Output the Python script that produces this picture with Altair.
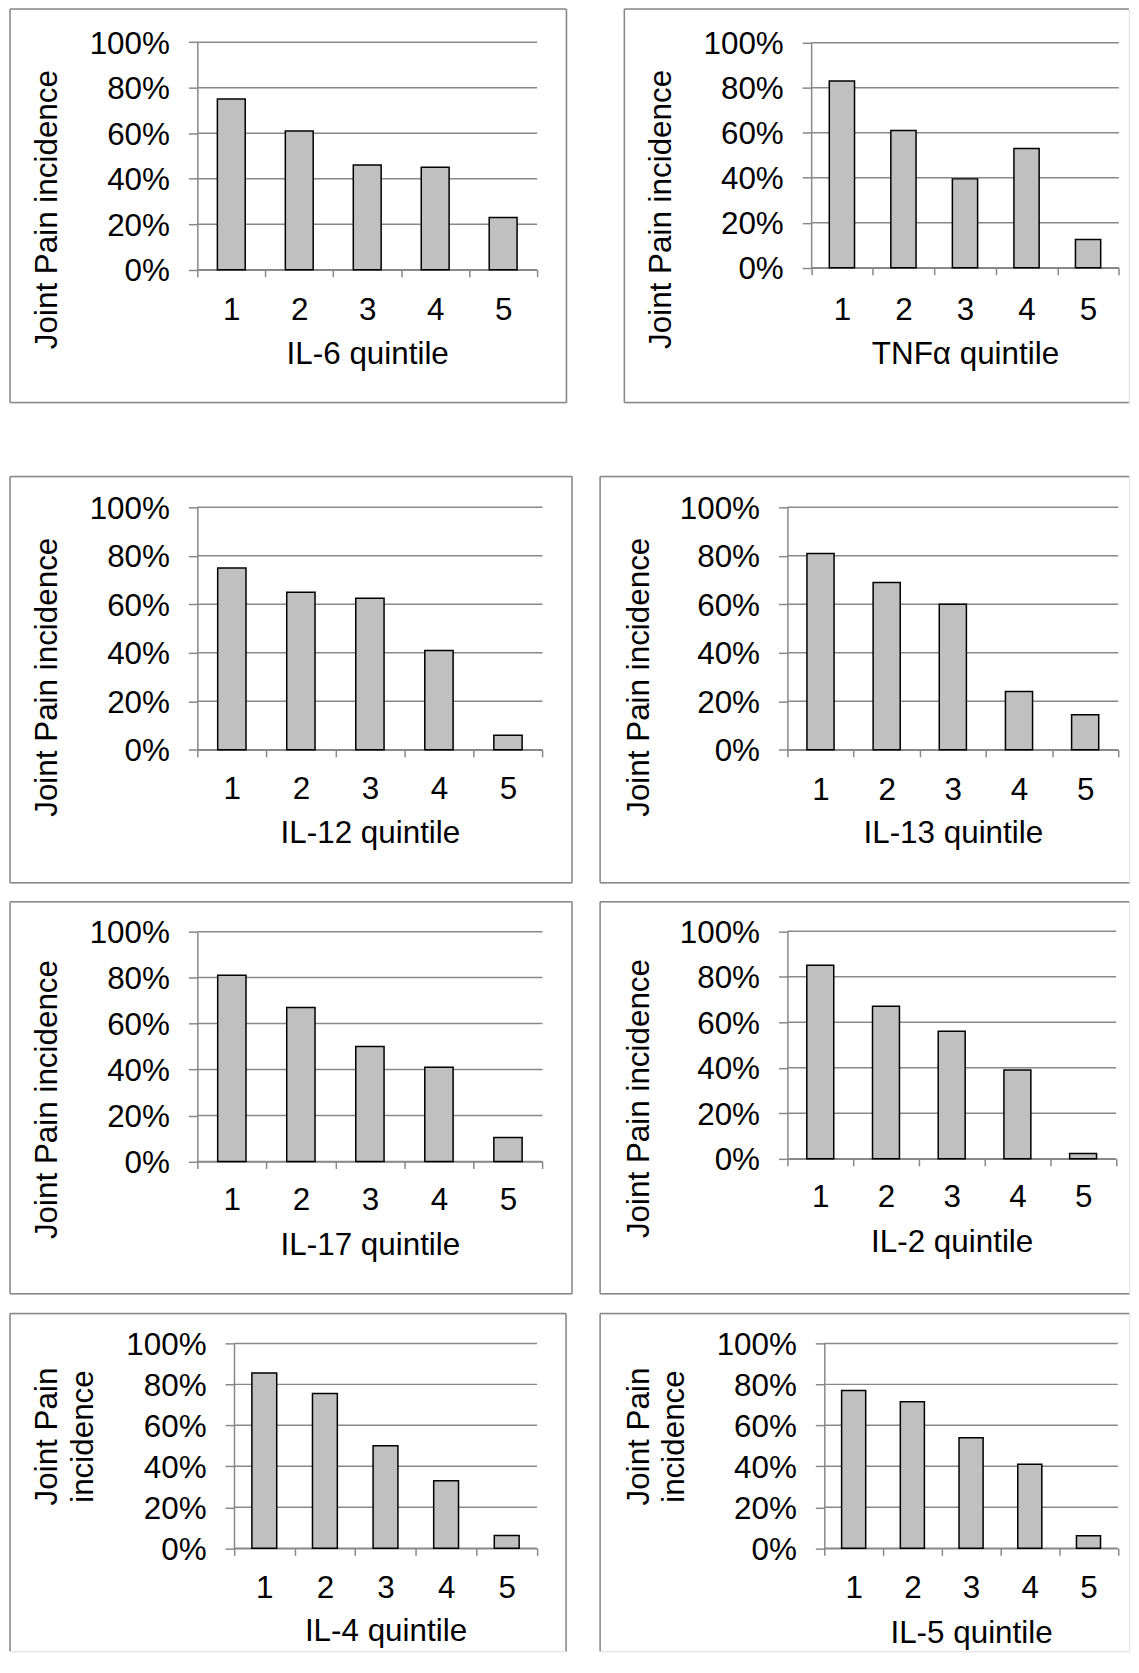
import altair as alt
import pandas as pd

# ---------------- data ----------------
QUINTILES = ["1", "2", "3", "4", "5"]
MARKERS = ["IL-6", "TNFα", "IL-12", "IL-13", "IL-17", "IL-2", "IL-4", "IL-5"]
IL6 = [0.75, 0.61, 0.46, 0.45, 0.23]
TNFA = [0.83, 0.61, 0.395, 0.53, 0.125]
IL12 = [0.75, 0.65, 0.625, 0.41, 0.06]
IL13 = [0.81, 0.69, 0.60, 0.24, 0.145]
IL17 = [0.81, 0.67, 0.50, 0.41, 0.105]
IL2 = [0.85, 0.67, 0.56, 0.39, 0.023]
IL4 = [0.855, 0.755, 0.50, 0.33, 0.063]
IL5 = [0.77, 0.715, 0.54, 0.41, 0.062]
SERIES = [IL6, TNFA, IL12, IL13, IL17, IL2, IL4, IL5]
Y_TICKS = [0, 0.2, 0.4, 0.6, 0.8, 1.0]
Y_TITLE = "Joint Pain incidence"
Y_TITLE_2L = ["Joint Pain", "incidence"]

# ---------------- style ----------------
GRAY = "#888888"
BAR_FILL = "#c0c0c0"
FONT = "Liberation Sans"
FS = 31.5
LW = 1.5
RIGHT = 1129  # right end of the (open) right-hand frames, page px

# per-panel layout in page pixels:
# frame box, plot box (x, y, w, h), frame edges drawn, text centres
# (ycx = centre of the first line of the y title)
LAYOUT = [
    dict(frame=(8.3, 8.3, 566.7, 403.3), plot=(196.3, 41.7, 341, 228.3), edges="ltrb",
         xl=308.3, xt=353.3, ycx=43.9, ycy=209.2, two=False),
    dict(frame=(622.7, 8.3, RIGHT, 403.3), plot=(810.2, 42.3, 308.8, 225.7), edges="ltb",
         xl=308.3, xt=353.0, ycx=658.0, ycy=209.0, two=False),
    dict(frame=(8.3, 475, 572.3, 882.7), plot=(196.3, 506, 346.4, 243.3), edges="ltrb",
         xl=786.7, xt=831.0, ycx=43.9, ycy=676.0, two=False),
    dict(frame=(598, 475, RIGHT, 882.7), plot=(786, 506, 332, 243.3), edges="ltb",
         xl=788.3, xt=831.0, ycx=634.8, ycy=676.0, two=False),
    dict(frame=(8.3, 900, 572.3, 1293.3), plot=(196.3, 930, 346.4, 230.7), edges="ltrb",
         xl=1197.7, xt=1243.0, ycx=43.9, ycy=1098.0, two=False),
    dict(frame=(598, 900, RIGHT, 1293.3), plot=(786, 929.5, 329.7, 228.5), edges="ltb",
         xl=1194.5, xt=1239.5, ycx=634.8, ycy=1097.0, two=False),
    dict(frame=(8.3, 1311, 566.3, 1650), plot=(233.1, 1341, 304.1, 205.7), edges="ltr",
         xl=1585.0, xt=1628.3, ycx=43.9, ycy=1434.0, two=True),
    dict(frame=(598, 1311, RIGHT, 1650), plot=(823, 1341, 294.6, 205.7), edges="lt",
         xl=1585.0, xt=1630.0, ycx=634.8, ycy=1434.0, two=True),
]

X_TICK = 7
Y_TICK = 9
MID = 2.3  # distance of cap centre above a 'middle' baseline anchor


def frame_layers(W, H, edges):
    base = alt.Chart(pd.DataFrame({"k": [0]}))
    rule = dict(color=GRAY, strokeWidth=LW)
    out = []
    if "l" in edges:
        out.append(base.mark_rule(**rule).encode(x=alt.value(0), y=alt.value(0), y2=alt.value(H)))
    if "r" in edges:
        out.append(base.mark_rule(**rule).encode(x=alt.value(W), y=alt.value(0), y2=alt.value(H)))
    if "t" in edges:
        out.append(base.mark_rule(**rule).encode(y=alt.value(0), x=alt.value(0), x2=alt.value(W)))
    if "b" in edges:
        out.append(base.mark_rule(**rule).encode(y=alt.value(H), x=alt.value(0), x2=alt.value(W)))
    return out


def panel(name, values, g):
    fx0, fy0, fx1, fy1 = g["frame"]
    px0, py0, w, h = g["plot"]
    W, H = fx1 - fx0, fy1 - fy0
    ax, ay = px0 - fx0, py0 - fy0
    bottom = py0 + h

    xscale = alt.Scale(paddingInner=0, paddingOuter=0, range=[ax, ax + w])
    yscale = alt.Scale(domain=[0, 1], nice=False, range=[ay + h, ay])
    yaxis = alt.Axis(
        title=Y_TITLE_2L if g["two"] else Y_TITLE,
        values=Y_TICKS, format=".0%", grid=False, offset=-ax,
        tickSize=Y_TICK, tickColor=GRAY, tickWidth=LW,
        domainColor=GRAY, domainWidth=LW,
        labelFont=FONT, labelFontSize=FS, labelColor="black",
        labelPadding=19, labelOffset=2, labelOverlap=False,
        titleFont=FONT, titleFontSize=FS, titleFontWeight="normal",
        titleColor="black", titleAngle=270, titleBaseline="middle",
        titleAlign="center", titleX=g["ycx"] - px0 + MID, titleY=g["ycy"] - fy0,
        titleLineHeight=36,
    )

    df = pd.DataFrame({"q": QUINTILES, "v": values})
    grid = alt.Chart(pd.DataFrame({"v": Y_TICKS})).mark_rule(
        color=GRAY, strokeWidth=LW
    ).encode(
        y=alt.Y("v:Q", scale=yscale, axis=yaxis),
        x=alt.value(ax), x2=alt.value(ax + w),
    )
    bars = alt.Chart(df).mark_bar(
        width=alt.RelativeBandSize(0.41), fill=BAR_FILL, stroke="black", strokeWidth=LW
    ).encode(
        x=alt.X(
            "q:N", sort=QUINTILES, scale=xscale,
            axis=alt.Axis(
                title=f"{name} quintile", labelAngle=0, tickBand="extent",
                offset=-(H - bottom + fy0),
                tickSize=X_TICK, tickColor=GRAY, tickWidth=LW,
                domainColor=GRAY, domainWidth=LW, grid=False,
                labelFont=FONT, labelFontSize=FS, labelColor="black",
                labelBaseline="middle", labelPadding=g["xl"] - bottom + MID - X_TICK,
                titleFont=FONT, titleFontSize=FS, titleFontWeight="normal",
                titleColor="black", titleBaseline="middle", titleAlign="center",
                titleY=g["xt"] - bottom + MID, titleX=ax + w / 2,
            ),
        ),
        y=alt.Y("v:Q", scale=yscale, axis=yaxis),
    )
    layers = frame_layers(W, H, g["edges"]) + [grid, bars]
    return alt.layer(*layers).properties(width=W, height=H)


panels = [panel(n, s, g) for n, s, g in zip(MARKERS, SERIES, LAYOUT)]

row1 = alt.hconcat(panels[0], panels[1], spacing=54.5)
row2 = alt.hconcat(panels[2], panels[3], spacing=24.2)
row3 = alt.hconcat(panels[4], panels[5], spacing=24.2)
row4 = alt.hconcat(panels[6], panels[7], spacing=30.2)

chart = alt.vconcat(
    row1,
    alt.vconcat(row2, alt.vconcat(row3, row4, spacing=16.2), spacing=15.8),
    spacing=70.2,
).properties(
    padding={"left": 0, "top": -4, "right": 0, "bottom": 0}
).configure_view(stroke=None).configure(
    background="white", font=FONT
)

chart.save("out.html", embed_options={"renderer": "svg", "actions": False})
